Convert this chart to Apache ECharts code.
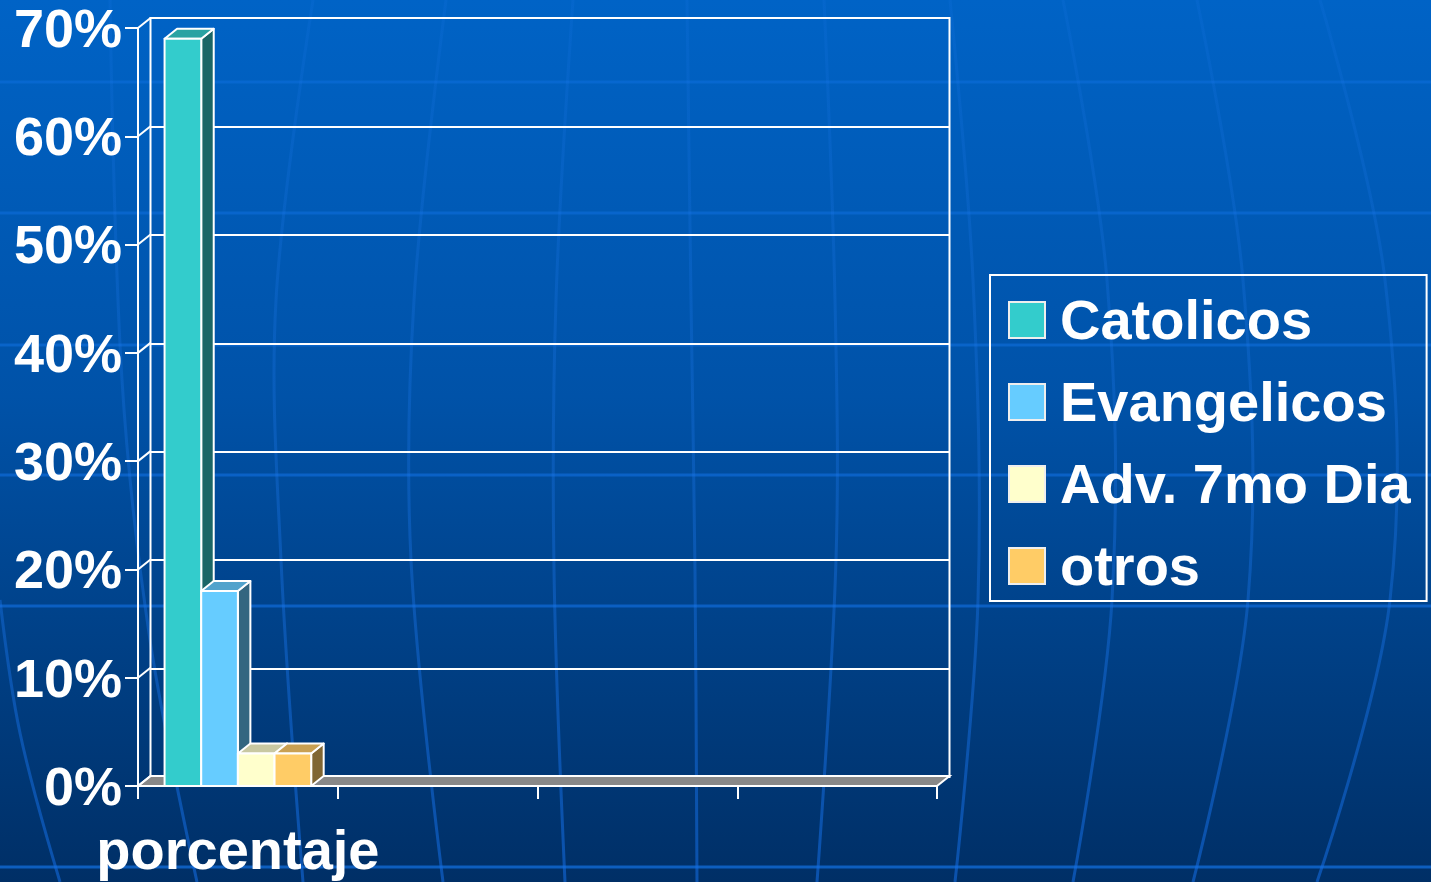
<!DOCTYPE html>
<html><head><meta charset="utf-8">
<script src="https://cdn.jsdelivr.net/npm/echarts@6/dist/echarts.min.js"></script>
<style>html,body{margin:0;padding:0;background:#004c9a}#c{width:1431px;height:882px}</style>
</head><body><div id="c"></div>
<script>
// ---- data ----
const categories = ['porcentaje', '', '', ''];
const seriesNames = ['Catolicos', 'Evangelicos', 'Adv. 7mo Dia', 'otros'];
const catolicos = [0.69];
const evangelicos = [0.18];
const adventistas = [0.03];
const otros = [0.03];
const yTicks = [0, 0.1, 0.2, 0.3, 0.4, 0.5, 0.6, 0.7];

// ---- style ----
const seriesValues = [catolicos, evangelicos, adventistas, otros];
const faceColors = [
  ['#33cccc', '#29a3a3', '#1a6666'],
  ['#66ccff', '#52a3cc', '#336680'],
  ['#ffffcc', '#c8c8a2', '#807f66'],
  ['#ffcc66', '#c9a052', '#806633']
];
const DX = 12.5, DY = -10;
const BAR_RATIO = 0.1835;
const FONT = "'Liberation Sans', Arial, sans-serif";

const chart = echarts.init(document.getElementById('c'));

function barRenderer(i) {
  return function (params, api) {
    const top = api.coord([api.value(0), api.value(1)]);
    const base = api.coord([api.value(0), 0])[1];
    const band = api.size([1, 0])[0];
    const w = band * BAR_RATIO;
    const x0 = top[0] - 2 * w + i * w;
    const y0 = top[1];
    const c = faceColors[i];
    const st = (fill) => ({ fill: fill, stroke: '#ffffff', lineWidth: 2, lineJoin: 'round' });
    return {
      type: 'group',
      children: [
        { type: 'polygon', shape: { points: [[x0 + w, y0], [x0 + w + DX, y0 + DY], [x0 + w + DX, base + DY], [x0 + w, base]] }, style: st(c[2]) },
        { type: 'polygon', shape: { points: [[x0, y0], [x0 + DX, y0 + DY], [x0 + w + DX, y0 + DY], [x0 + w, y0]] }, style: st(c[1]) },
        { type: 'rect', shape: { x: x0, y: y0, width: w, height: base - y0 }, style: st(c[0]) }
      ]
    };
  };
}

function wallRenderer(params, api) {
  const cs = params.coordSys;
  const base = api.coord([0, 0])[1];
  const children = [];
  children.push({
    type: 'polygon',
    shape: { points: [[cs.x, base], [cs.x + cs.width, base], [cs.x + cs.width + DX, base + DY], [cs.x + DX, base + DY]] },
    style: { fill: '#888888', stroke: '#ffffff', lineWidth: 2 }
  });
  yTicks.forEach(v => {
    const y = api.coord([0, v])[1];
    children.push({ type: 'line', shape: { x1: cs.x, y1: y, x2: cs.x + DX, y2: y + DY }, style: { stroke: '#ffffff', lineWidth: 2 } });
  });
  return { type: 'group', children };
}

const series = seriesNames.map((name, i) => ({
  name: name,
  type: 'custom',
  xAxisIndex: 0, yAxisIndex: 0,
  z: 3,
  silent: true,
  itemStyle: { color: faceColors[i][0] },
  renderItem: barRenderer(i),
  data: seriesValues[i].map((v, k) => [k, v])
}));
series.unshift({
  name: 'walls', type: 'custom', xAxisIndex: 0, yAxisIndex: 0, z: 2, silent: true,
  renderItem: wallRenderer, data: [[0, 0]]
});

// background globe lines (decoration only)
const bgLines = [];
[82, 213, 345, 475, 606, 867].forEach(y => {
  const a = (0.3 + 0.35 * y / 882).toFixed(2);
  bgLines.push({ type: 'line', silent: true, z: -10, shape: { x1: 0, y1: y, x2: 1431, y2: y }, style: { stroke: 'rgba(20,120,240,' + a + ')', lineWidth: 3 } });
});
const meridianStroke = {
  type: 'linear', x: 0, y: 0, x2: 0, y2: 882, global: true,
  colorStops: [{ offset: 0, color: 'rgba(30,120,235,0.15)' }, { offset: 0.5, color: 'rgba(30,120,235,0.3)' }, { offset: 1, color: 'rgba(20,110,230,0.55)' }]
};
[
  [[1063, 0], [1107, 280], [1112, 600], [1073, 882]],
  [[1197, 0], [1243, 280], [1248, 600], [1193, 882]],
  [[1320, 0], [1385, 280], [1390, 600], [1317, 882]],
  [[950, 0], [973, 280], [978, 600], [955, 882]],
  [[824, 0], [835, 300], [836, 560], [817, 882]],
  [[687, 0], [691, 300], [695, 570], [697, 882]],
  [[573, 0], [556, 300], [554, 570], [565, 882]],
  [[446, 0], [414, 300], [411, 560], [443, 882]],
  [[313, 0], [276, 300], [281, 560], [303, 882]],
  [[110, 0], [122, 380], [150, 640], [197, 882]],
  [[0, 600], [20, 733], [60, 882]]
].forEach(pts => {
  bgLines.push({ type: 'polyline', silent: true, z: -10, shape: { points: pts, smooth: 0.35 }, style: { stroke: meridianStroke, lineWidth: 3, fill: null } });
});

const option = {
  animation: false,
  backgroundColor: {
    type: 'linear', x: 0, y: 0, x2: 0, y2: 1,
    colorStops: [{ offset: 0, color: '#0063c6' }, { offset: 0.45, color: '#0052a8' }, { offset: 0.7, color: '#00428a' }, { offset: 1, color: '#002f66' }]
  },
  graphic: bgLines,
  grid: [
    { left: 138, top: 28, width: 799, height: 759, show: false },
    { left: 150.5, top: 18, width: 799, height: 759, show: true, borderColor: '#ffffff', borderWidth: 2, backgroundColor: 'transparent' }
  ],
  xAxis: [
    {
      type: 'category', gridIndex: 0, data: categories, z: 4,
      axisLine: { show: true, lineStyle: { color: '#ffffff', width: 2 } },
      axisTick: { show: true, interval: 0, length: 13, lineStyle: { color: '#ffffff', width: 2 } },
      axisLabel: { interval: 0, color: '#ffffff', fontFamily: FONT, fontWeight: 'bold', fontSize: 56, margin: 40, lineHeight: 56 },
      splitLine: { show: false }
    },
    { type: 'category', gridIndex: 1, data: categories, show: false }
  ],
  yAxis: [
    {
      type: 'value', gridIndex: 0, min: 0, max: 0.7, interval: 0.1, z: 4,
      axisLine: { show: true, lineStyle: { color: '#ffffff', width: 2 } },
      axisTick: { show: true, length: 13, lineStyle: { color: '#ffffff', width: 2 } },
      axisLabel: { color: '#ffffff', fontFamily: FONT, fontWeight: 'bold', fontSize: 54, margin: 16,
        verticalAlign: 'top', lineHeight: 8,
        formatter: v => Math.round(v * 100) + '%' },
      splitLine: { show: false }
    },
    {
      type: 'value', gridIndex: 1, min: 0, max: 0.7, interval: 0.1,
      axisLine: { show: false }, axisTick: { show: false }, axisLabel: { show: false },
      splitLine: { show: true, lineStyle: { color: '#ffffff', width: 2 } }
    }
  ],
  legend: {
    data: seriesNames,
    orient: 'vertical',
    left: 990, top: 275,
    padding: [13, 16, 3, 18],
    borderColor: '#ffffff', borderWidth: 2,
    icon: 'rect', itemWidth: 36, itemHeight: 36, itemGap: 18,
    itemStyle: { borderColor: '#eeeeee', borderWidth: 2 },
    selectedMode: false,
    formatter: '{t|{name}}',
    textStyle: {
      color: '#ffffff', fontFamily: FONT, fontWeight: 'bold', fontSize: 56,
      rich: { t: { color: '#ffffff', fontFamily: FONT, fontWeight: 'bold', fontSize: 56, lineHeight: 56, padding: [8, 0, 0, 10] } }
    }
  },
  series: series
};
chart.setOption(option);
</script></body></html>
